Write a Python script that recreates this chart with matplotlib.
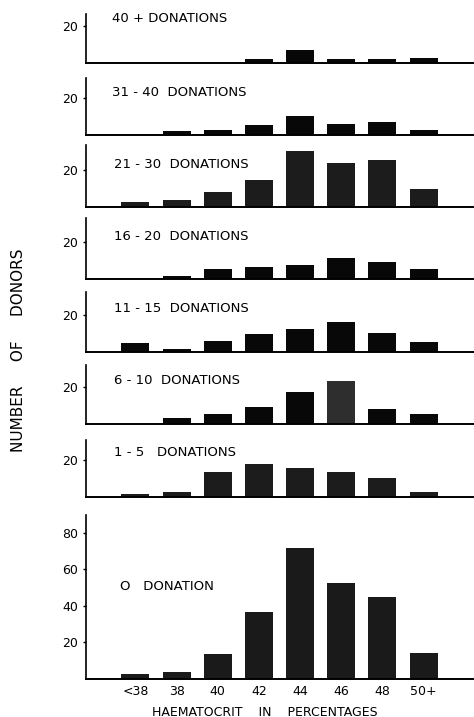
import matplotlib
matplotlib.use("Agg")
import matplotlib.pyplot as plt

plt.rcParams['font.family'] = ['DejaVu Sans']

categories = ["<38", "38", "40", "42", "44", "46", "48", "50+"]

panel_labels = ["40 + DONATIONS", "31 - 40  DONATIONS", "21 - 30  DONATIONS",
                "16 - 20  DONATIONS", "11 - 15  DONATIONS", "6 - 10  DONATIONS",
                "1 - 5   DONATIONS", "O   DONATION"]

d40plus = [0, 0, 0, 2, 7, 2, 2, 3]
d31_40 = [0, 2, 3, 5.5, 10.5, 6, 7, 3]
d21_30 = [2.7, 4, 8, 14.6, 30.5, 24, 25.6, 10]
d16_20 = [0, 1.8, 5.5, 6.4, 7.7, 11.4, 9.4, 5.5]
d11_15 = [4.8, 1.6, 5.8, 10, 12.3, 16.3, 10.5, 5.4]
d6_10 = [0, 3.5, 5.3, 9.5, 17.4, 23.3, 8, 5.3]
d1_5 = [1.4, 3, 13.5, 18.2, 16.1, 13.7, 10.5, 2.6]
d0 = [2.6, 3.8, 13.8, 36.8, 71.5, 52.6, 45, 14.4]

series = [d40plus, d31_40, d21_30, d16_20, d11_15, d6_10, d1_5, d0]

W, H = 474, 717
fig = plt.figure(figsize=(W / 100, H / 100), dpi=100)

# panel extents in pixels (top, baseline)
extents = [(14, 63), (78, 135), (145, 207), (218, 279), (292, 352),
           (365, 424), (440, 497), (515, 679)]
label_pos = [(112, 19), (112, 92), (114, 165), (114, 237), (114, 308),
             (114, 380), (114, 453), (120, 587)]
colors = ['#080808', '#080808', '#1c1c1c', '#080808', '#080808',
          ['#080808'] * 5 + ['#2e2e2e'] + ['#080808'] * 2, '#1c1c1c', '#1a1a1a']

left_px, right_px = 86, 473
px_per_unit = 1.83

for i, vals in enumerate(series):
    top, base = extents[i]
    rect = [left_px / W, 1 - base / H, (right_px - left_px) / W, (base - top) / H]
    ax = fig.add_axes(rect)
    ax.bar(range(len(categories)), vals, width=0.68, color=colors[i], linewidth=0)
    ax.set_xlim(-1.2, 8.2)
    ax.set_ylim(0, (base - top) / px_per_unit)
    for s in ['top', 'right']:
        ax.spines[s].set_visible(False)
    ax.spines['left'].set_linewidth(1.2)
    ax.spines['bottom'].set_linewidth(1.4)
    ax.patch.set_alpha(0)
    if i < 7:
        ax.set_yticks([20])
        ax.set_xticks([])
    else:
        ax.set_yticks([20, 40, 60, 80])
        ax.set_xticks(range(len(categories)))
        ax.set_xticklabels(categories, fontsize=9)
        ax.tick_params(axis='x', length=0, pad=4)
    ax.tick_params(axis='y', length=2.5, width=1, labelsize=9, pad=3)
    lx, ly = label_pos[i]
    fig.text(lx / W, 1 - ly / H, panel_labels[i], fontsize=9.5, va='center', ha='left')

fig.text(19 / W, 1 - 350 / H, "NUMBER     OF     DONORS", rotation=90,
         fontsize=11, va='center', ha='center')
fig.text(265 / W, 1 - 712 / H, "HAEMATOCRIT    IN    PERCENTAGES",
         fontsize=9, va='center', ha='center')

fig.savefig("out.png", dpi=100)
